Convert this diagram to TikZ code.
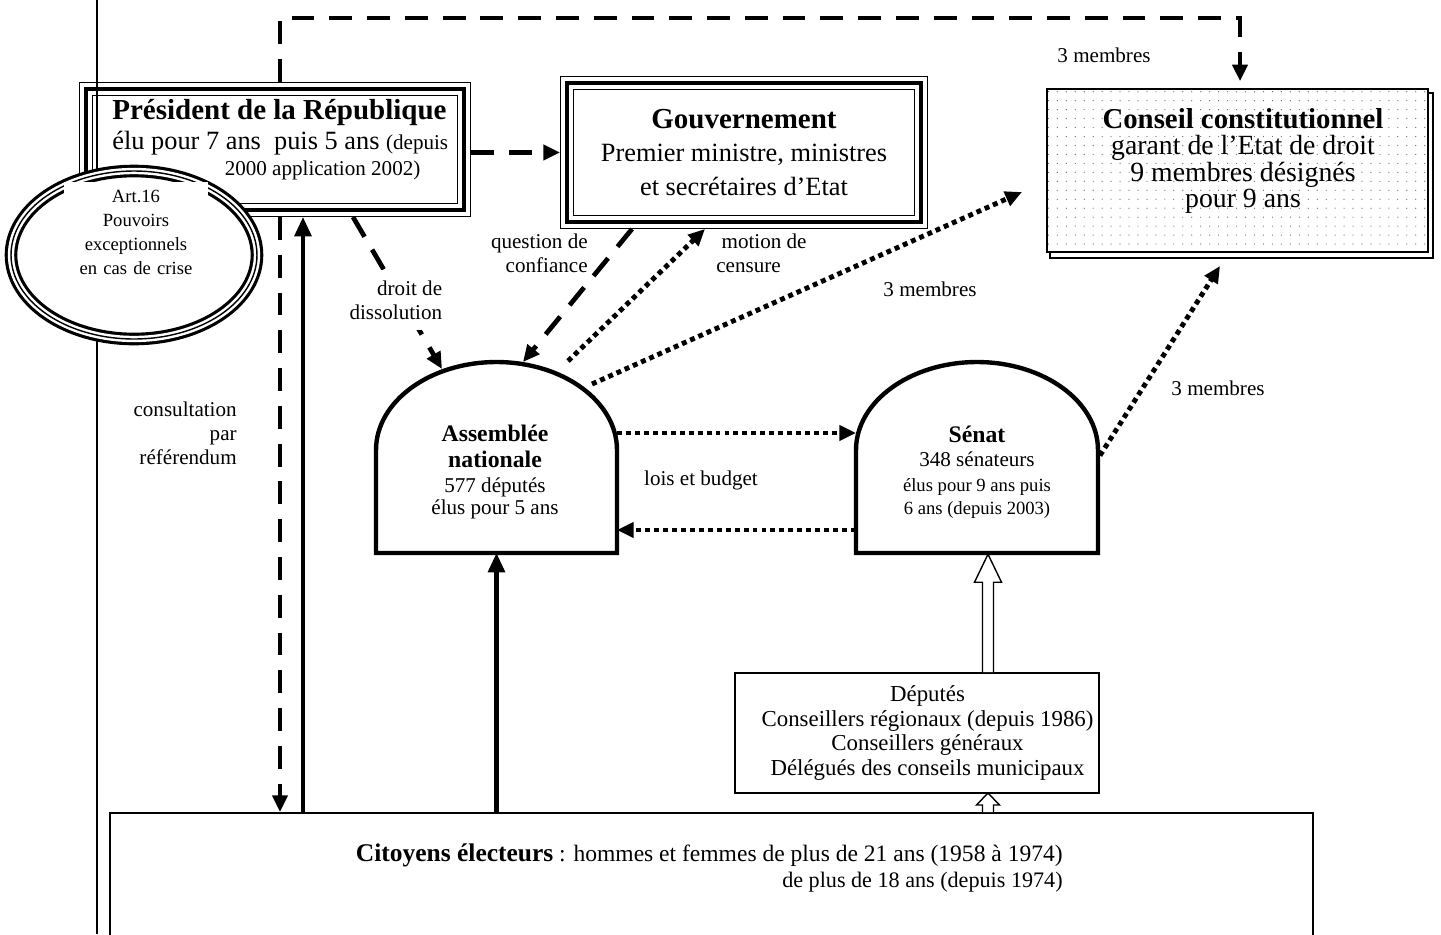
\documentclass[tikz,border=0pt]{standalone}
\usepackage{fontspec}
\setmainfont{Liberation Serif}
\usetikzlibrary{arrows.meta,calc,shapes.geometric,patterns.meta,backgrounds}
\tikzset{
  trbox/.style={rectangle, draw, line width=2.3pt, outer sep=4pt,
    preaction={fill=white, draw, line width=0.75pt, double=white,
      double distance=6.6pt}},
  ovalbox/.style={ellipse, draw, line width=0.8pt, inner sep=0pt,
    preaction={fill=white, draw, line width=1.8pt, double=white,
      double distance=3.6pt}},
  dotbox/.style={rectangle, draw, line width=0.9pt, preaction={fill=white},
    pattern={Dots[distance=5.1pt, radius=0.35pt]}, pattern color=black!60},
  thinbox/.style={rectangle, draw, line width=0.9pt, fill=white},
  chamber/.style={rectangle, inner sep=0pt, outer sep=0pt},
  domeline/.style={draw, line width=2.5pt, fill=white},
  lbl/.style={inner sep=0pt, align=center, font=\fontsize{12}{13.6}\selectfont},
  solidarr/.style={-{Triangle[length=11pt, width=9.5pt]}, line width=2.3pt},
  dasharr/.style={-{Triangle[length=9.5pt, width=8.5pt]}, line width=2.7pt,
    dash pattern=on 13pt off 8.5pt},
  dotarr/.style={-{Triangle[length=9.5pt, width=8.5pt]}, line width=2.8pt,
    dash pattern=on 2.8pt off 2.3pt},
  hollowarr/.style={draw, line width=0.8pt, fill=white}
}
\begin{document}
\begin{tikzpicture}[x=0.02cm, y=-0.02cm]
  \useasboundingbox (0,0) rectangle (1441,934);

  % --- executive ---
  \node[trbox, minimum width=7.56cm, minimum height=2.42cm] (pres) at (275,149.5) {};
  \node[lbl, anchor=west, align=left, font=\fontsize{15}{17}\selectfont] (pres-txt) at (112,140)
    {{\fontsize{16.5}{17}\selectfont\bfseries Président de la République}\\
     élu pour 7 ans\ \ puis 5 ans {\fontsize{12}{13.6}\selectfont(depuis}\\[-2pt]
     {\fontsize{12}{13.6}\selectfont\hspace*{64pt}2000 application 2002)}};

  % margin rule of the page
  \draw[line width=0.8pt] (97,0) -- (97,934);

  \node[ovalbox, minimum width=4.92cm, minimum height=3.36cm] (art) at (134,255) {};
  \node[lbl, fill=white, text width=2.88cm, inner ysep=4.5pt, anchor=north,
        font=\fontsize{10.6}{13.6}\selectfont] (art-txt) at (136,182)
    {Art.16\\Pouvoirs\\exceptionnels\\en cas de crise};

  \node[trbox, minimum width=7.08cm, minimum height=2.78cm, align=center,
        font=\fontsize{15}{19}\selectfont] (gov) at (744,152.5)
    {{\fontsize{16.5}{19}\selectfont\bfseries Gouvernement}\\
     Premier ministre, ministres\\et secrétaires d’Etat};

  % --- conseil constitutionnel ---
  \node[dotbox, minimum width=7.62cm, minimum height=3.26cm] (cc) at (1237.5,170.5) {};
  \node[lbl, font=\fontsize{15.8}{15}\selectfont] (cc-txt) at (1243,161)
    {{\fontsize{16.4}{15}\selectfont\bfseries Conseil constitutionnel}\\
     garant de l’Etat de droit\\9 membres désignés\\pour 9 ans};
  \begin{scope}[on background layer]
    \draw[line width=0.9pt, fill=white] ($(cc.south west)+(4,5)$) rectangle ($(cc.north east)+(4,5)$);
  \end{scope}

  % --- parliament ---
  \node[chamber, minimum width=4.82cm, minimum height=3.82cm] (an) at (496.5,457.5) {};
  \path[domeline] (an.south west) -- ++(0,-103)
      .. controls +(0,-48.6) and +(-66.5,0) .. (an.north)
      .. controls +(66.5,0) and +(0,-48.6) .. ($(an.south east)+(0,-103)$)
      -- (an.south east) -- cycle;
  \node[lbl, font=\fontsize{12}{12.5}\selectfont] (an-txt) at (495,472)
    {{\fontsize{13.5}{12.5}\selectfont\bfseries Assemblée}\\[2.5pt]
     {\fontsize{13.5}{12.5}\selectfont\bfseries nationale}\\[2pt]
     577 députés\\élus pour 5 ans};

  \node[chamber, minimum width=4.84cm, minimum height=3.82cm] (sen) at (977,457.5) {};
  \path[domeline] (sen.south west) -- ++(0,-103)
      .. controls +(0,-48.6) and +(-66.5,0) .. (sen.north)
      .. controls +(66.5,0) and +(0,-48.6) .. ($(sen.south east)+(0,-103)$)
      -- (sen.south east) -- cycle;
  \node[lbl, font=\fontsize{12}{13}\selectfont] (sen-txt) at (977,472)
    {{\fontsize{13.5}{13}\selectfont\bfseries Sénat}\\[1pt]
     348 sénateurs\\[1pt]
     {\fontsize{10.6}{13}\selectfont élus pour 9 ans puis}\\
     {\fontsize{10.6}{13}\selectfont 6 ans (depuis 2003)}};

  % --- electors ---
  \node[thinbox, minimum width=7.24cm, minimum height=2.4cm, align=center,
        font=\fontsize{13}{13.9}\selectfont] (dlg) at (917,733)
    {\hspace*{12pt}Députés\\\hspace*{12pt}Conseillers régionaux (depuis 1986)\\
     \hspace*{12pt}Conseillers généraux\\\hspace*{12pt}Délégués des conseils municipaux};

  \node[thinbox, minimum width=24.06cm, minimum height=4cm, anchor=north] (cit) at (711.5,812) {};
  \node[lbl, align=right, anchor=north east, font=\fontsize{13.4}{15.3}\selectfont] (cit-txt) at (1063,843)
    {{\fontsize{14.5}{15.3}\selectfont\bfseries Citoyens électeurs} : hommes et femmes de plus de 21 ans (1958 à 1974)\\
     {\fontsize{12.6}{15.3}\selectfont de plus de 18 ans (depuis 1974)}};

  % --- labels ---
  \node[lbl, align=right, anchor=east] (ref-lbl) at (237,433) {consultation\\par\\référendum};
  \node[lbl, align=right, anchor=east, fill=white, inner xsep=2pt, inner ysep=6pt] (dis-lbl) at (446,300)
    {droit de\\dissolution};
  \node[lbl, align=right, anchor=east] (conf-lbl) at (588,253) {question de\\confiance};
  \node[lbl, align=left, anchor=west] (cens-lbl) at (716,253) {\hspace*{3pt}motion de\\censure};
  \node[lbl] (m-top) at (1104,55) {3 membres};
  \node[lbl] (m-an) at (930,289) {3 membres};
  \node[lbl] (m-sen) at (1218,388) {3 membres};
  \node[lbl] (lois) at (701,480) {lois et budget};

  % ---------------- edges ----------------
  \coordinate (top-l) at (280,18);
  \coordinate (top-r) at (1240,18);
  \coordinate (refx) at (280,0);
  \coordinate (votex) at (303,0);
  \coordinate (hx) at (988,0);
  \coordinate (an-dis) at (442,369);
  \coordinate (an-conf) at (523,362);
  \coordinate (an-cen) at (568,361);
  \coordinate (an-cc) at (592,384);
  \coordinate (cc-in) at (1022,192);
  \coordinate (cc-se) at (1220,266);

  \draw[dasharr, shorten >=4pt] (pres.north -| top-l) -- (top-l) -- (top-r) -- (cc.north -| top-r);
  \draw[dasharr] (pres.east |- gov.west) -- (gov.west);
  \begin{scope}[on background layer]
    % dissolution runs behind its label
    \draw[dasharr] ($(pres.south)+(78,0)$) -- (an-dis);
  \end{scope}
  \draw[dasharr] ($(gov.south)+(-112,0)$) -- (an-conf);
  \draw[dotarr] (an-cen) -- ($(gov.south)+(-39,0)$);
  \draw[dotarr] (an-cc) -- (cc-in);
  \draw[dotarr] ($(an.east)+(0,-24.5)$) -- ($(sen.west)+(0,-24.5)$);
  \draw[dotarr] ($(sen.west)+(0,72.5)$) -- ($(an.east)+(0,72.5)$);
  \draw[dotarr] ($(sen.east)+(2,-2)$) -- (cc-se);

  % referendum and vote
  \draw[dasharr] (pres.south -| refx) -- (cit.north -| refx);
  \draw[solidarr] (cit.north -| votex) -- (pres.south -| votex);
  \draw[solidarr] (cit.north -| an.south) -- (an.south);

  % indirect election of the senate
  \draw[hollowarr] ($(dlg.north -| hx)+(-5.5,0)$) -- ++(0,-90) -- ++(-8,0) -- ++(13.5,-28)
      -- ++(13.5,28) -- ++(-8,0) -- ($(dlg.north -| hx)+(5.5,0)$);
  \draw[hollowarr] ($(cit.north -| hx)+(-5.5,0)$) -- ++(0,-7) -- ++(-6,0) -- ++(11.5,-12)
      -- ++(11.5,12) -- ++(-6,0) -- ($(cit.north -| hx)+(5.5,0)$);

\end{tikzpicture}
\end{document}
